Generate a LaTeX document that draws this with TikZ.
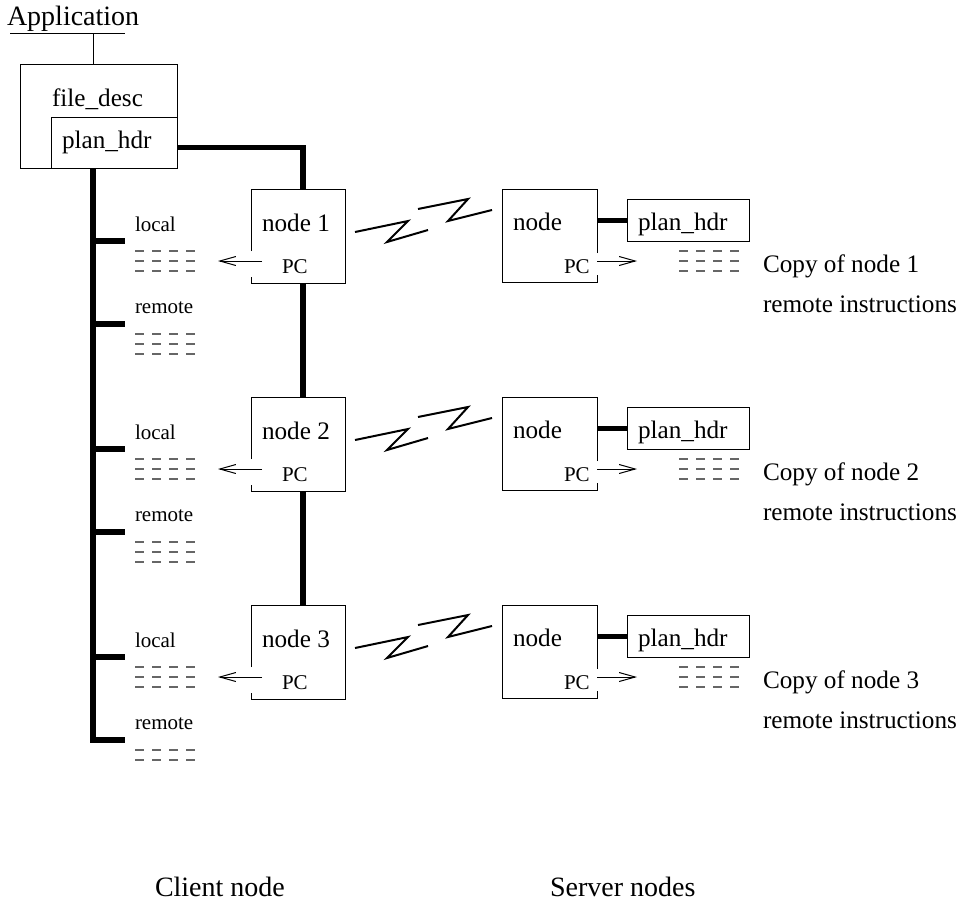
\documentclass[tikz,border=0pt]{standalone}
\usepackage{fontspec}
\setmainfont{Liberation Serif}
\usetikzlibrary{arrows.meta}
\begin{document}
\begin{tikzpicture}[x=0.5pt,y=-0.5pt,
  every node/.style={inner sep=0pt,outer sep=0pt},
  big/.style={font=\fontsize{12.6}{15}\selectfont},
  app/.style={font=\fontsize{14}{16}\selectfont},
  small/.style={font=\fontsize{10.5}{12}\selectfont},
  thinln/.style={line width=0.5pt},
  bus/.style={line width=2.9pt,line join=miter},
  link/.style={line width=2.5pt},
  zig/.style={line width=1pt,line join=miter},
  dashrow/.style={line width=0.6pt,black!60},
  pcarrow/.style={line width=0.5pt,-{Straight Barb[length=8pt,width=4.5pt]}},
  cbox/.style={minimum width=47pt,minimum height=47pt},
  sbox/.style={minimum width=47.5pt,minimum height=46.5pt},
  hbox/.style={draw,line width=0.5pt,minimum width=61pt,minimum height=21pt},
]
\path[use as bounding box] (0,0) rectangle (961,901);

% application and file descriptor
\node[app,anchor=base west] (app) at (7,25) {Application};
\coordinate (ul1) at (10,33);
\coordinate (ul2) at (125,33);
\coordinate (appfoot) at (93,33);
\draw[thinln] (ul1) -- (ul2);
\node[draw,thinln,minimum width=78.5pt,minimum height=52pt] (fd) at (98.5,116) {};
\node[draw,thinln,minimum width=63pt,minimum height=25.5pt] (ph) at (114,142.5) {};
\draw[thinln] (appfoot) -- (appfoot |- fd.north);
\node[big,anchor=base west] (fdt) at (52,106) {file\_desc};
\node[big,anchor=base west] (pht) at (62,148) {plan\_hdr};

\foreach \i/\T/\rr in {1/189/{0,10,20},2/397/{0,10,20},3/605/{0,10}}{
  % client node
  \node[cbox] (n\i) at (298,\T+47) {};
  \draw[thinln] ([yshift=-31pt]n\i.north west) -- (n\i.north west) -- (n\i.north east)
     -- (n\i.south east) -- (n\i.south west) -- ([yshift=3pt]n\i.south west);
  \node[big,anchor=base west] (nt\i) at (262,\T+42) {node \i};
  \node[small,anchor=base west] (pc\i) at (282,\T+84) {PC};
  \coordinate (pcs\i) at (262,\T+72);
  \coordinate (pce\i) at (218,\T+72);
  \draw[pcarrow] (pcs\i) -- (pce\i);
  \node[small,anchor=base west] (loc\i) at (135,\T+42) {local};
  \node[small,anchor=base west] (rem\i) at (135,\T+124) {remote};
  \coordinate (ls\i) at (125,\T+52);
  \coordinate (rs\i) at (125,\T+135);
  \draw[bus] (ls\i -| appfoot) -- (ls\i);
  \draw[bus] (rs\i -| appfoot) -- (rs\i);
  \foreach \dy in {0,10,20}
    \foreach \k in {0,1,2,3}
      \draw[dashrow] ({135+17*\k},{\T+62+\dy}) -- ++(9,0);
  \foreach \dy in \rr
    \foreach \k in {0,1,2,3}
      \draw[dashrow] ({135+17*\k},{\T+145+\dy}) -- ++(9,0);
  % link zigzag
  \draw[zig] (355,\T+43) -- (408,\T+32) -- (387,\T+53) -- (428,\T+41);
  \draw[zig] (418,\T+20) -- (468,\T+10) -- (448,\T+32) -- (492,\T+21);
  % server node
  \node[sbox] (s\i) at (549.5,\T+46.5) {};
  \draw[thinln] ([yshift=-32pt]s\i.north east) -- (s\i.north east) -- (s\i.north west)
     -- (s\i.south west) -- (s\i.south east) -- ([yshift=3.5pt]s\i.south east);
  \node[big,anchor=base west] (st\i) at (513,\T+41) {node};
  \node[small,anchor=base west] (spc\i) at (564,\T+84) {PC};
  \coordinate (sas\i) at (597,\T+72);
  \coordinate (sae\i) at (637,\T+72);
  \draw[pcarrow] (sas\i) -- (sae\i);
  \node[hbox] (sp\i) at (688,\T+31) {};
  \node[big,anchor=base west] (spt\i) at (638,\T+41) {plan\_hdr};
  \draw[link] (sp\i.west -| s\i.east) -- (sp\i.west);
  \foreach \dy in {0,10,20}
    \foreach \k in {0,1,2,3}
      \draw[dashrow] ({679+17*\k},{\T+62+\dy}) -- ++(9,0);
  \node[big,anchor=base west] (cp\i) at (763,\T+83) {Copy of node \i};
  \node[big,anchor=base west] (ri\i) at (763,\T+123) {remote instructions};
}

% thick connections on the client side
\draw[bus] (fd.south -| appfoot) |- (rs3);
\draw[bus] ([yshift=-2.5pt]ph.east) -| ([xshift=2.5pt]n1.north);
\draw[bus] ([xshift=2.5pt]n1.south) -- ([xshift=2.5pt]n2.north);
\draw[bus] ([xshift=2.5pt]n2.south) -- ([xshift=2.5pt]n3.north);

% column captions
\node[app,anchor=base west] (cl) at (155,896) {Client node};
\node[app,anchor=base west] (sv) at (550,896) {Server nodes};
\end{tikzpicture}
\end{document}
